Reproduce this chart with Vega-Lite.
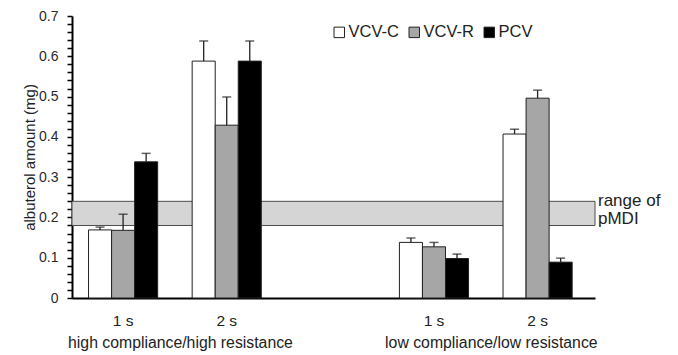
{
  "$schema": "https://vega.github.io/schema/vega-lite/v6.json",
  "width": 523,
  "height": 282,
  "autosize": {"type": "none"},
  "padding": {"left": 72, "top": 16, "right": 83, "bottom": 57},
  "config": {
    "view": {"stroke": null},
    "font": "Liberation Sans",
    "text": {"font": "Liberation Sans"},
    "axisY": {"labelOverlap": false}
  },
  "datasets": {
    "bars": [
      {"slot": "high 1 s", "mode": "VCV-C", "value": 0.169, "upper": 0.176},
      {"slot": "high 1 s", "mode": "VCV-R", "value": 0.168, "upper": 0.208},
      {"slot": "high 1 s", "mode": "PCV", "value": 0.338, "upper": 0.359},
      {"slot": "high 2 s", "mode": "VCV-C", "value": 0.588, "upper": 0.638},
      {"slot": "high 2 s", "mode": "VCV-R", "value": 0.429, "upper": 0.499},
      {"slot": "high 2 s", "mode": "PCV", "value": 0.588, "upper": 0.638},
      {"slot": "low 1 s", "mode": "VCV-C", "value": 0.138, "upper": 0.149},
      {"slot": "low 1 s", "mode": "VCV-R", "value": 0.127, "upper": 0.138},
      {"slot": "low 1 s", "mode": "PCV", "value": 0.098, "upper": 0.109},
      {"slot": "low 2 s", "mode": "VCV-C", "value": 0.407, "upper": 0.419},
      {"slot": "low 2 s", "mode": "VCV-R", "value": 0.496, "upper": 0.516},
      {"slot": "low 2 s", "mode": "PCV", "value": 0.089, "upper": 0.099}
    ],
    "band": [{"lo": 0.18, "hi": 0.24, "label": "range of\npMDI"}],
    "groups": [
      {"slot": "high 1 s", "label": "high compliance/high resistance"},
      {"slot": "low 1 s", "label": "low compliance/low resistance"}
    ]
  },
  "layer": [
    {
      "data": {"name": "bars"},
      "mark": {"type": "bar", "opacity": 0},
      "encoding": {
        "x": {
          "field": "slot", "type": "nominal", "sort": null,
          "scale": {"domain": ["high 1 s", "high 2 s", "gap", "low 1 s", "low 2 s"], "paddingInner": 0.333, "paddingOuter": 0.19, "align": 0.42},
          "axis": {
            "title": null, "ticks": false, "labelAngle": 0, "labelFontSize": 15.5, "labelColor": "#222222",
            "labelPadding": 15, "domainColor": "black", "domainWidth": 2,
            "labelExpr": "datum.value == 'gap' ? '' : slice(datum.value, -3)"
          }
        },
        "xOffset": {"field": "mode", "type": "nominal", "sort": null, "scale": {"domain": ["VCV-C", "VCV-R", "PCV"], "paddingInner": 0, "paddingOuter": 0}},
        "y": {
          "field": "value", "type": "quantitative",
          "scale": {"domain": [0, 0.7], "nice": false},
          "axis": {
            "title": "albuterol amount (mg)", "titleFontSize": 15, "titleFontWeight": "normal", "titleColor": "#222222", "titlePadding": 1,
            "values": [0,0.02,0.04,0.06,0.08,0.1,0.12,0.14,0.16,0.18,0.2,0.22,0.24,0.26,0.28,0.3,0.32,0.34,0.36,0.38,0.4,0.42,0.44,0.46,0.48,0.5,0.52,0.54,0.56,0.58,0.6,0.62,0.64,0.66,0.68,0.7],
            "tickCount": 50,
            "labelExpr": "(round(datum.value*100) % 10 == 0) ? format(datum.value, '.1~f') : ''",
            "labelOverlap": false, "labelFontSize": 14, "labelColor": "#2a2a2a", "labelPadding": 9,
            "grid": false, "tickSize": 5, "tickColor": "black", "tickWidth": 1.5,
            "domainColor": "black", "domainWidth": 2
          }
        },
        "color": {
          "field": "mode", "type": "nominal",
          "scale": {"domain": ["VCV-C", "VCV-R", "PCV"], "range": ["#ffffff", "#a6a6a6", "#000000"]},
          "legend": {
            "title": null, "orient": "none", "direction": "horizontal", "legendX": 259, "legendY": 8,
            "symbolType": "square", "symbolSize": 110, "symbolStrokeColor": "#222222", "symbolStrokeWidth": 1, "symbolOpacity": 1,
            "labelFontSize": 16.5, "labelColor": "#222222", "labelOffset": 1, "columnPadding": 7
          }
        }
      }
    },
    {
      "data": {"name": "band"},
      "mark": {"type": "rect", "fill": "#d5d5d5", "stroke": "#4d4d4d", "strokeWidth": 1},
      "encoding": {
        "y": {"field": "lo", "type": "quantitative"},
        "y2": {"field": "hi"}
      }
    },
    {
      "data": {"name": "band"},
      "mark": {"type": "text", "align": "left", "baseline": "middle", "dx": 3, "fontSize": 17, "lineBreak": "\n", "lineHeight": 18, "color": "#222222"},
      "encoding": {
        "x": {"value": "width"},
        "y": {"field": "hi", "type": "quantitative"},
        "text": {"field": "label"}
      }
    },
    {
      "data": {"name": "bars"},
      "mark": {"type": "bar", "stroke": "#222222", "strokeWidth": 1},
      "encoding": {
        "x": {"field": "slot", "type": "nominal", "sort": null},
        "xOffset": {"field": "mode", "type": "nominal", "sort": null},
        "y": {"field": "value", "type": "quantitative"},
        "color": {"field": "mode", "type": "nominal"}
      }
    },
    {
      "data": {"name": "bars"},
      "mark": {"type": "rule", "color": "#222222", "strokeWidth": 1.3},
      "encoding": {
        "x": {"field": "slot", "type": "nominal", "sort": null},
        "xOffset": {"field": "mode", "type": "nominal", "sort": null},
        "y": {"field": "value", "type": "quantitative"},
        "y2": {"field": "upper"}
      }
    },
    {
      "data": {"name": "bars"},
      "mark": {"type": "tick", "color": "#222222", "size": 9, "thickness": 1.5},
      "encoding": {
        "x": {"field": "slot", "type": "nominal", "sort": null},
        "xOffset": {"field": "mode", "type": "nominal", "sort": null},
        "y": {"field": "upper", "type": "quantitative"}
      }
    },
    {
      "data": {"name": "groups"},
      "mark": {"type": "text", "align": "center", "baseline": "middle", "dy": 45, "fontSize": 15.8, "color": "#222222"},
      "encoding": {
        "x": {"field": "slot", "type": "nominal", "sort": null, "bandPosition": 1.33},
        "y": {"datum": 0},
        "text": {"field": "label"}
      }
    }
  ]
}
